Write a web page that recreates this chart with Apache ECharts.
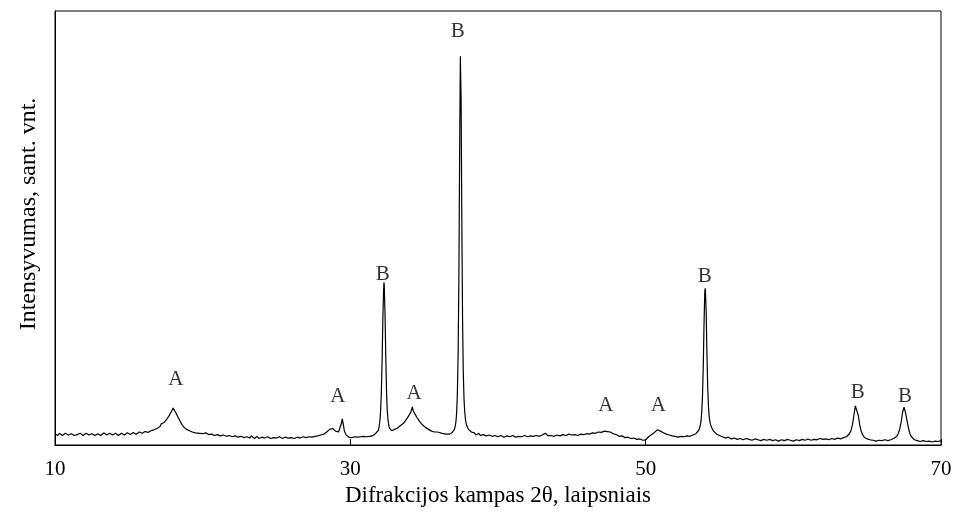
<!DOCTYPE html>
<html>
<head>
<meta charset="utf-8">
<script src="https://cdn.jsdelivr.net/npm/echarts@6/dist/echarts.min.js"></script>
<style>html,body{margin:0;padding:0;background:#fff}#chart{width:956px;height:516px}</style>
</head>
<body>
<div id="chart"></div>
<script>
// Diffraction scan, [2theta (deg), intensity (rel. units)]
const scanLow = [
[10.0,2.5],[10.1,2.3],[10.2,2.2],[10.3,2.7],[10.4,2.6],[10.5,2.2],[10.6,2.3],[10.7,2.7],[10.8,2.5],[10.9,2.3],[11.0,2.1],[11.1,2.6],[11.2,2.4],[11.3,2.2],[11.4,2.6],[11.5,2.4],[11.6,2.2],[11.7,2.7],[11.8,2.4],[11.9,2.2],
[12.0,2.3],[12.1,2.7],[12.2,2.6],[12.3,2.3],[12.4,2.2],[12.5,2.6],[12.6,2.4],[12.7,2.2],[12.8,2.1],[12.9,2.6],[13.0,2.5],[13.1,2.2],[13.2,2.3],[13.3,2.8],[13.4,2.6],[13.5,2.3],[13.6,2.2],[13.7,2.7],[13.8,2.4],[13.9,2.3],
[14.0,2.3],[14.1,2.7],[14.2,2.5],[14.3,2.2],[14.4,2.2],[14.5,2.7],[14.6,2.6],[14.7,2.3],[14.8,2.4],[14.9,2.8],[15.0,2.7],[15.1,2.4],[15.2,2.5],[15.3,2.9],[15.4,2.8],[15.5,2.5],[15.6,2.6],[15.7,3.0],[15.8,2.9],[15.9,2.7],
[16.0,2.8],[16.1,3.1],[16.2,3.2],[16.3,2.9],
[16.4,3.0],[16.5,3.3],[16.6,3.1],[16.7,3.5],[16.8,3.4],[16.9,3.8],[17.0,3.7],[17.1,4.2],[17.2,4.9],[17.3,4.6],
[17.4,5.2],[17.5,5.6],[17.6,6.1],[17.7,6.6],[17.8,7.2],[17.9,7.8],[18.0,8.5],[18.05,8.9],[18.1,8.3],[18.2,7.3],
[18.3,6.6],[18.4,6.0],[18.5,5.3],[18.6,4.7],[18.7,4.2],[18.8,3.9],[18.9,3.6],[19.0,3.6],[19.1,3.3],[19.2,3.2],
[19.3,3.0],[19.4,3.1],[19.5,2.8],[19.6,2.9],
[19.8,2.7],[19.9,2.4],[20.0,2.6],[20.1,2.9],[20.2,2.8],[20.3,2.5],[20.4,2.4],[20.5,2.7],[20.6,2.5],[20.7,2.2],[20.8,2.2],[20.9,2.6],[21.0,2.4],[21.1,2.0],[21.2,2.1],[21.3,2.5],[21.4,2.3],[21.5,1.9],[21.6,2.0],[21.7,2.4],
[21.8,2.2],[21.9,1.8],[22.0,1.9],[22.1,2.3],[22.2,2.1],[22.3,1.7],[22.4,1.8],[22.5,2.2],[22.6,2.0],[22.7,1.6],[22.8,1.7],[22.9,2.1],[23.0,1.9],[23.1,1.5],[23.2,1.6],[23.3,2.1],[23.4,1.9],[23.5,1.5],[23.6,1.7],[23.7,2.0],
[23.8,1.5],[23.9,1.4],[24.0,1.8],[24.1,2.0],[24.2,1.6],[24.3,1.4],[24.4,1.9],[24.5,1.8],[24.6,1.5],[24.7,1.3],[24.8,1.7],[24.9,2.0],[25.0,1.6],[25.1,1.4],[25.2,1.9],[25.3,1.7],[25.4,1.5],[25.5,1.3],[25.6,1.8],[25.7,2.0],
[25.8,1.6],[25.9,1.4],[26.0,1.7],[26.1,1.9],[26.2,1.5],[26.3,1.4],[26.4,1.8],[26.5,2.0],[26.6,1.6],[26.7,1.5],[26.8,1.9],[26.9,2.1],[27.0,1.7],[27.1,1.6],[27.2,1.9],[27.3,2.1],[27.4,1.8],[27.5,1.7],[27.6,2.0],[27.7,2.3],
[27.8,2.1],[27.9,2.0],[28.0,2.3]
];
const scanMid = [
[28.1,2.2],[28.2,2.5],[28.3,2.7],[28.4,3.0],[28.5,3.3],[28.6,3.6],[28.7,4.0],[28.8,3.8],[28.9,3.5],[29.0,3.2],
[29.1,3.1],[29.2,3.0],[29.3,3.4],[29.4,5.0],[29.45,6.0],[29.5,5.2],[29.6,3.2],[29.7,2.4],[29.8,2.0],[29.9,1.8],
[30.0,2.0],[30.1,1.7],[30.2,1.6],[30.3,1.9],[30.4,1.5],[30.5,1.8],[30.6,1.6],[30.7,1.9],[30.8,1.7],[30.9,2.0],
[31.0,1.8],[31.1,1.9],[31.2,1.7],[31.3,2.0],[31.4,1.9],[31.5,2.1],[31.6,2.3],[31.7,2.6],[31.8,2.9],
[31.9,3.4],[31.95,4.2],[32.0,5.5],[32.05,7.8],[32.1,12.0],[32.15,19.0],[32.2,28.5],[32.25,35.5],[32.28,37.5],
[32.3,36.5],[32.35,30.0],[32.4,20.5],[32.45,12.5],[32.5,8.0],[32.55,5.8],[32.6,4.6],[32.65,3.9],[32.7,3.6],[32.8,3.3],
[32.9,3.2],[33.0,3.6],[33.1,3.4],[33.2,3.9],[33.3,4.0],[33.4,4.5],[33.5,4.4],[33.6,5.0],[33.7,5.4],[33.8,5.9],
[33.9,6.3],[34.0,7.0],[34.1,7.6],[34.2,8.8],[34.25,7.9],[34.3,7.8],[34.4,7.0],[34.5,6.4],[34.6,6.0],[34.7,5.4],
[34.8,5.1],[34.9,4.6],[35.0,4.4],[35.1,4.0],[35.2,3.9],[35.3,3.6],[35.4,3.5],[35.5,3.2],[35.6,3.3],[35.7,3.0],
[35.8,2.9],[35.9,3.0],[36.0,2.7],[36.1,2.8],[36.2,2.5],[36.3,2.6],[36.4,2.4],[36.5,2.5],[36.6,2.3],[36.7,2.5],
[36.8,2.6],[36.9,2.9],
[37.0,3.2],[37.05,3.6],[37.1,4.3],[37.15,5.3],[37.2,7.5],[37.25,12.0],[37.3,21.0],[37.35,38.0],[37.4,66.0],
[37.45,89.6],[37.5,80.0],[37.55,52.0],[37.6,29.0],[37.65,16.5],[37.7,10.5],[37.75,7.5],[37.8,5.8],[37.85,4.9],
[37.9,4.3],[38.0,3.6],[38.1,3.2],[38.2,3.0]
];
const scanHigh = [
[38.3,2.6],[38.4,2.8],[38.5,2.3],[38.6,2.5],[38.7,2.7],[38.8,2.2],[38.9,2.0],[39.0,2.4],[39.1,2.6],[39.2,2.1],[39.3,1.9],[39.4,2.3],[39.5,2.5],[39.6,2.0],[39.7,1.9],[39.8,2.2],[39.9,2.4],[40.0,1.9],[40.1,1.7],[40.2,2.2],
[40.3,2.3],[40.4,1.8],[40.5,1.7],[40.6,2.1],[40.7,2.3],[40.8,1.9],[40.9,1.8],[41.0,2.2],[41.1,2.3],[41.2,1.8],[41.3,1.7],[41.4,2.0],[41.5,2.3],[41.6,1.9],[41.7,1.8],[41.8,2.2],[41.9,2.3],[42.0,1.9],[42.1,1.8],[42.2,2.1],
[42.3,2.3],[42.4,2.0],[42.5,1.9],[42.6,2.2],[42.7,2.4],[42.8,2.0],[42.9,1.9],[43.0,2.3],[43.1,2.5],[43.2,2.7],[43.3,2.3],[43.4,2.1],[43.5,2.0],[43.6,2.2],[43.7,2.4],[43.8,2.0],[43.9,1.9],[44.0,2.3],[44.1,2.5],[44.2,2.1],
[44.3,2.0],[44.4,2.4],[44.5,2.6],[44.6,2.2],[44.7,2.1],[44.8,2.5],[44.9,2.7],[45.0,2.3],[45.1,2.2],[45.2,2.4],[45.3,2.6],[45.4,2.2],[45.5,2.3],[45.6,2.5],[45.7,2.7],[45.8,2.4],[45.9,2.3],[46.0,2.6],[46.1,2.8],
[46.2,2.5],[46.3,2.6],[46.4,2.8],[46.5,3.0],[46.6,2.7],[46.7,2.8],[46.8,3.0],[46.9,3.2],[47.0,2.9],[47.1,3.1],[47.2,3.2],[47.3,3.4],[47.4,3.1],[47.5,3.2],[47.6,3.0],[47.7,2.9],[47.8,2.6],[47.9,2.7],
[48.0,2.4],[48.1,2.3],[48.2,2.0],[48.3,2.2],[48.4,2.1],[48.5,1.8],[48.6,1.7],[48.7,1.9],[48.8,1.8],[48.9,1.5],[49.0,1.5],[49.1,1.7],[49.2,1.6],[49.3,1.3],[49.4,1.3],[49.5,1.5],[49.6,1.4],[49.7,1.1],[49.8,1.1],[49.9,1.3],
[50.0,1.2],[50.1,1.5],[50.2,1.9],[50.3,2.3],[50.4,2.4],[50.5,2.6],[50.6,2.9],[50.7,3.2],[50.8,3.5],[50.9,3.3],[51.0,3.2],[51.1,3.0],[51.2,2.8],[51.3,2.7],[51.4,2.5],[51.5,2.6],[51.6,2.3],[51.7,2.2],
[51.8,2.1],[51.9,2.3],[52.0,2.0],[52.1,1.8],[52.2,1.8],[52.3,2.1],[52.4,2.0],[52.5,1.8],[52.6,1.9],[52.7,2.2],[52.8,2.1],[52.9,1.9],[53.0,2.0],[53.1,2.3],[53.2,2.3],[53.3,2.4],[53.4,2.6],[53.5,2.9],
[53.6,3.4],
[53.65,3.8],[53.7,4.5],[53.75,5.6],[53.8,7.8],[53.85,11.5],[53.9,18.0],[53.95,27.5],[54.0,35.0],[54.03,36.1],
[54.05,35.5],[54.1,30.0],[54.15,21.0],[54.2,13.5],[54.25,9.0],[54.3,6.6],[54.35,5.4],[54.4,4.6],[54.5,3.8],
[54.6,3.2],[54.7,2.8],[54.8,2.5],[54.9,2.4],
[55.0,2.2],[55.1,1.9],[55.2,1.9],[55.3,2.1],[55.4,1.6],[55.5,1.5],[55.6,1.8],[55.7,1.9],[55.8,1.4],[55.9,1.3],[56.0,1.6],[56.1,1.8],[56.2,1.3],[56.3,1.2],[56.4,1.5],[56.5,1.7],[56.6,1.2],[56.7,1.1],[56.8,1.5],[56.9,1.6],
[57.0,1.3],[57.1,1.0],[57.2,1.1],[57.3,1.5],[57.4,1.4],[57.5,1.0],[57.6,1.2],[57.7,1.4],[57.8,1.0],[57.9,0.9],[58.0,1.3],[58.1,1.4],[58.2,1.1],[58.3,0.9],[58.4,1.3],[58.5,1.4],[58.6,1.0],[58.7,0.9],[58.8,1.2],[58.9,1.4],
[59.0,0.9],[59.1,0.8],[59.2,1.2],[59.3,1.3],[59.4,1.0],[59.5,0.8],[59.6,1.3],[59.7,1.4],[59.8,1.1],[59.9,0.8],[60.0,0.9],[60.1,1.3],[60.2,1.2],[60.3,0.9],[60.4,1.0],[60.5,1.4],[60.6,1.3],[60.7,1.0],[60.8,1.1],[60.9,1.5],
[61.0,1.4],[61.1,1.0],[61.2,1.1],[61.3,1.5],[61.4,1.3],[61.5,1.0],[61.6,1.2],[61.7,1.6],[61.8,1.5],[61.9,1.1],[62.0,1.3],[62.1,1.6],[62.2,1.4],[62.3,1.1],[62.4,1.2],[62.5,1.6],[62.6,1.5],[62.7,1.2],[62.8,1.3],[62.9,1.7],
[63.0,1.6],[63.1,1.3],[63.2,1.4],[63.3,1.8],[63.4,1.7],[63.5,1.6],[63.6,1.9],
[63.7,2.1],[63.8,2.6],[63.9,3.3],[64.0,4.6],[64.1,6.8],[64.2,9.0],[64.25,9.4],[64.3,8.6],[64.4,6.8],[64.5,4.6],
[64.6,3.1],[64.7,2.3],[64.8,1.8],[64.9,1.5],[65.0,1.4],[65.1,1.1],[65.2,1.2],[65.3,1.4],
[65.4,1.1],[65.5,0.8],[65.6,0.9],[65.7,1.2],[65.8,1.1],[65.9,0.8],[66.0,1.0],[66.1,1.3],[66.2,1.2],[66.3,0.9],[66.4,1.0],[66.5,1.3],[66.6,1.2],[66.7,1.3],[66.8,1.5],[66.9,1.7],[67.0,2.0],
[67.1,2.6],[67.2,3.6],[67.3,5.2],[67.4,7.6],[67.5,8.7],[67.55,8.3],[67.6,7.4],[67.7,5.6],[67.8,3.8],[67.9,2.6],
[68.0,1.9],[68.1,1.5],[68.2,1.2],[68.3,1.3],[68.4,1.0],[68.5,0.7],
[68.6,0.8],[68.7,1.1],[68.8,1.0],[68.9,0.7],[69.0,0.8],[69.1,1.1],[69.2,0.9],[69.3,0.6],[69.4,0.7],[69.5,1.0],[69.6,0.9],[69.7,0.6],[69.8,0.8],[69.9,1.1],[70.0,1.0]
];
// Phase labels: [2theta, intensity level of the label, phase]
const phaseLabels = [
[18.19,15.0,'A'],[29.16,11.1,'A'],[32.19,39.4,'B'],[34.31,11.9,'A'],[37.27,95.2,'B'],
[47.31,9.2,'A'],[50.86,9.2,'A'],[54.0,38.8,'B'],[64.36,12.1,'B'],[67.56,11.1,'B']
];
const xTicks = [10, 30, 50, 70];
const xTitle = 'Difrakcijos kampas 2θ, laipsniais';
const yTitle = 'Intensyvumas, sant. vnt.';

const scan = scanLow.concat(scanMid, scanHigh);
const FONT = '"Liberation Serif", "Times New Roman", serif';

const chart = echarts.init(document.getElementById('chart'), null, {renderer: 'canvas'});
chart.setOption({
  animation: false,
  backgroundColor: '#fff',
  grid: {left: 55, right: 15, top: 11, bottom: 71, show: true, borderColor: '#000', borderWidth: 1, backgroundColor: 'transparent'},
  xAxis: {
    type: 'value', min: xTicks[0], max: xTicks[xTicks.length - 1], interval: 20,
    name: xTitle, nameLocation: 'middle', nameGap: 33,
    nameTextStyle: {fontFamily: FONT, fontSize: 23, color: '#000'},
    axisLine: {show: true, onZero: false, lineStyle: {color: '#000', width: 1}},
    axisTick: {show: true, inside: true, length: 6, lineStyle: {color: '#000', width: 1}},
    axisLabel: {fontFamily: FONT, fontSize: 21, color: '#000', margin: 14},
    splitLine: {show: false}
  },
  yAxis: {
    type: 'value', min: 0, max: 100,
    name: yTitle, nameLocation: 'middle', nameGap: 14, nameRotate: 90,
    nameTextStyle: {fontFamily: FONT, fontSize: 24, color: '#000', padding: [0, 0, 0, 28]},
    axisLine: {show: true, lineStyle: {color: '#000', width: 1}},
    axisTick: {show: false}, axisLabel: {show: false}, splitLine: {show: false}
  },
  series: [
    {
      type: 'line', data: scan, showSymbol: false, symbol: 'none',
      lineStyle: {color: '#000', width: 1.2}, silent: true
    },
    {
      type: 'scatter', data: phaseLabels, symbolSize: 0, silent: true,
      label: {show: true, position: 'inside', formatter: p => p.value[2],
        fontFamily: FONT, fontSize: 21, color: '#000'}
    }
  ]
});
</script>
</body>
</html>
